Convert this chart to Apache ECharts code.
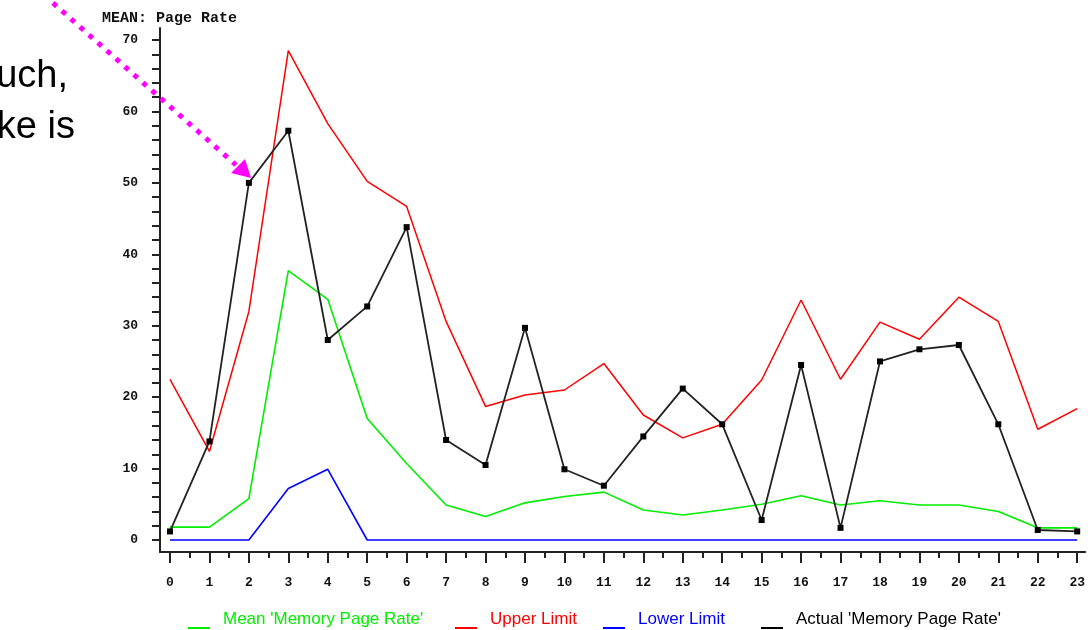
<!DOCTYPE html>
<html>
<head>
<meta charset="utf-8">
<script src="https://cdn.jsdelivr.net/npm/echarts@6/dist/echarts.min.js"></script>
<style>
html,body{margin:0;padding:0;background:#fff;}
#chart{width:1088px;height:630px;}
</style>
</head>
<body>
<div id="chart"></div>
<script>
// ---- data ----
var hours = [0,1,2,3,4,5,6,7,8,9,10,11,12,13,14,15,16,17,18,19,20,21,22,23];
var meanRate = [1.8,1.8,5.8,37.7,33.7,17.0,10.7,4.9,3.3,5.2,6.1,6.7,4.2,3.5,4.2,5.0,6.2,4.9,5.5,4.9,4.9,4.0,1.7,1.7];
var upperLimit = [22.5,12.4,32.0,68.5,58.3,50.2,46.7,30.6,18.7,20.3,21.0,24.7,17.5,14.3,16.2,22.4,33.6,22.5,30.5,28.1,34.0,30.6,15.5,18.4];
var lowerLimit = [0,0,0,7.2,9.9,0,0,0,0,0,0,0,0,0,0,0,0,0,0,0,0,0,0,0];
var actualRate = [1.2,13.8,50.0,57.3,28.0,32.7,43.8,14.0,10.5,29.7,9.9,7.6,14.5,21.2,16.2,2.8,24.5,1.7,25.0,26.7,27.3,16.2,1.4,1.2];
var seriesNames = ["Mean 'Memory Page Rate'", "Upper Limit", "Lower Limit", "Actual 'Memory Page Rate'"];
var seriesColors = ['#00ee00', '#ff0000', '#0000ff', '#000000'];
var yTitle = 'MEAN: Page Rate';
var yLabelValues = [0,10,20,30,40,50,60,70];
var yTickValues = [0,2,4,6,8,10,12,14,16,18,20,22,24,26,28,30,32,34,36,38,40,42,44,46,48,50,52,54,56,58,60,62,64,66,68,70];
var xHalfTicks = [0.5,1.5,2.5,3.5,4.5,5.5,6.5,7.5,8.5,9.5,10.5,11.5,12.5,13.5,14.5,15.5,16.5,17.5,18.5,19.5,20.5,21.5,22.5];

function pairs(vals){ return hours.map(function(h,i){ return [h, vals[i]]; }); }

var axisFont = {fontFamily:'"Liberation Mono", monospace', fontWeight:'bold', fontSize:13, color:'#111'};
var legendIcon = 'path://M0,0 M30,0 M0,18 L22,18 L22,20 L0,20 Z';
var legendLefts = [188, 455, 603, 761];

function makeLegend(i){
  return {
    left: legendLefts[i], top: 609, padding: 0,
    itemWidth: 30, itemHeight: 20, icon: legendIcon,
    itemStyle: {borderWidth: 0},
    selectedMode: false,
    textStyle: {color: seriesColors[i], fontFamily:'"Liberation Sans", Arial, sans-serif', fontSize: 17},
    data: [seriesNames[i]]
  };
}

var X_MIN = -0.2533, X_MAX = 23.2026, Y_MIN = -1.68, Y_MAX = 71.68;

var chart = echarts.init(document.getElementById('chart'), null, {renderer:'canvas'});
var option = {
  animation: false,
  backgroundColor: '#fff',
  title: {
    text: yTitle, left: 97, top: 6,
    textStyle: {fontFamily:'"Liberation Mono", monospace', fontWeight:'bold', fontSize:15, color:'#111'}
  },
  legend: [makeLegend(0), makeLegend(1), makeLegend(2), makeLegend(3)],
  grid: [{left: 160, right: 2, top: 28, bottom: 78}],
  xAxis: [
    {
      type: 'value', position: 'bottom', min: X_MIN, max: X_MAX,
      axisLine: {show: true, onZero: false, lineStyle: {color:'#222', width: 2}},
      axisTick: {show: true, length: 11, customValues: hours, lineStyle: {color:'#222', width: 2}},
      axisLabel: Object.assign({margin: 24, customValues: hours}, axisFont),
      splitLine: {show: false}
    },
    {
      type: 'value', position: 'bottom', min: X_MIN, max: X_MAX,
      axisLine: {show: false, onZero: false},
      axisTick: {show: true, length: 6, customValues: xHalfTicks, lineStyle: {color:'#222', width: 2}},
      axisLabel: {show: false},
      splitLine: {show: false}
    }
  ],
  yAxis: [
    {
      type: 'value', position: 'left', min: Y_MIN, max: Y_MAX,
      axisLine: {show: true, onZero: false, lineStyle: {color:'#222', width: 2}},
      axisTick: {show: true, length: 8, customValues: yTickValues, lineStyle: {color:'#222', width: 2}},
      axisLabel: Object.assign({margin: 22, customValues: yLabelValues}, axisFont),
      splitLine: {show: false}
    }
  ],
  series: [
    {name: seriesNames[0], type:'line', data: pairs(meanRate),
     showSymbol:false, symbol:'none', color: seriesColors[0], lineStyle:{width:1.6, color: seriesColors[0]}},
    {name: seriesNames[1], type:'line', data: pairs(upperLimit),
     showSymbol:false, symbol:'none', color: seriesColors[1], lineStyle:{width:1.5, color: seriesColors[1]}},
    {name: seriesNames[2], type:'line', data: pairs(lowerLimit),
     showSymbol:false, symbol:'none', color: seriesColors[2], lineStyle:{width:1.6, color: seriesColors[2]}},
    {name: seriesNames[3], type:'line', data: pairs(actualRate),
     symbol:'rect', symbolSize:6, showSymbol:true, color: seriesColors[3],
     itemStyle:{color:'#000', borderWidth:0},
     lineStyle:{width:1.8, color: '#222'}}
  ],
  graphic: [
    {type:'line', z: 100, shape:{x1:44, y1:-5, x2:236, y2:165},
     style:{stroke:'#ff00ff', lineWidth:5, lineDash:[5,7], lineCap:'butt'}},
    {type:'polygon', z: 100, shape:{points:[[231,173],[245,159],[251,178]]},
     style:{fill:'#ff00ff'}},
    {type:'text', z: 100, style:{text:'uch,', x:68, y:77, align:'right', verticalAlign:'middle',
      font:'38px "Liberation Sans", Arial, sans-serif', fill:'#000'}},
    {type:'text', z: 100, style:{text:'ke is', x:75, y:128, align:'right', verticalAlign:'middle',
      font:'38px "Liberation Sans", Arial, sans-serif', fill:'#000'}}
  ]
};
chart.setOption(option);
</script>
</body>
</html>
